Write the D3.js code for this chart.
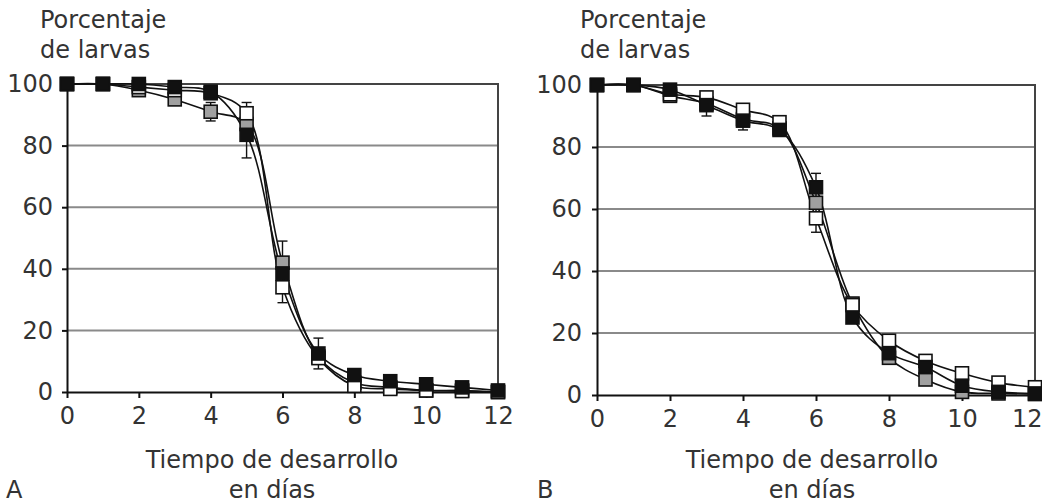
<!DOCTYPE html>
<html lang="es">
<head>
<meta charset="UTF-8">
<title>Porcentaje de larvas</title>
<script src="https://d3js.org/d3.v7.min.js"></script>
<style>
    body { margin: 0; background: #fff; }
    svg { display: block; font-family: "DejaVu Sans", Verdana, sans-serif; }
    .grid line { stroke: #8a8a8a; stroke-width: 2; }
    .axis path, .axis line { stroke: #111; stroke-width: 2; }
    .axis text { fill: #333; font-size: 24px; font-family: "DejaVu Sans", Verdana, sans-serif; }
    .label { fill: #333; font-size: 24px; }
    .curve { fill: none; stroke: #111; stroke-width: 1.6; }
    .err { stroke: #111; stroke-width: 1.4; }
</style>
</head>
<body>
<svg id="chart" width="1042" height="503"></svg>
<script>
// eje x: días de desarrollo
const days = [0, 1, 2, 3, 4, 5, 6, 7, 8, 9, 10, 11, 12];
const xTicks = [0, 2, 4, 6, 8, 10, 12];
const yTicks = [0, 20, 40, 60, 80, 100];

// panel A
const aBlack = [100, 100, 100, 99, 97.5, 83.5, 38.5, 12.5, 5.5, 3.5, 2.5, 1.5, 0.5];
const aWhite = [100, 100, 99, 98, 97, 90.5, 34, 11, 2, 1, 0.5, 0.3, 0];
const aGray  = [100, 100, 98, 95, 91, 87, 42, 11.5, 3, 1.5, 0.5, 0.5, 0];
const aBlackErr = [0, 0, 0, 1, 1.5, 7.5, 3, 5, 1, 1, 1, 1, 0];
const aWhiteErr = [0, 0, 0, 1, 1, 3.5, 5, 1, 1, 0.5, 0.5, 0, 0];
const aGrayErr  = [0, 0, 1, 1, 3, 2, 7, 1, 1, 0.5, 0.5, 0.5, 0];

// panel B
const bBlack = [100, 100, 98.5, 93.5, 88.5, 85.5, 67, 25, 13.5, 9, 3, 1, 0.5];
const bWhite = [100, 100, 97, 96, 92, 88, 57, 29, 17.5, 11, 7, 4, 2.5];
const bGray  = [100, 100, 96.5, 94, 89, 86, 62, 29.5, 12, 5, 1, 0.5, 0.3];
const bBlackErr = [0, 0, 1, 3.5, 3, 1.5, 4.5, 1, 1, 1, 1, 0.5, 0.5];
const bWhiteErr = [0, 0, 1, 1, 1.5, 1, 4.5, 2, 1, 1, 1, 1, 1];
const bGrayErr  = [0, 0, 1, 1, 1.5, 1, 2, 1, 1, 1, 1, 0.5, 0.5];

const svg = d3.select("#chart");

function drawPanel(opts) {
    const x = d3.scaleLinear().domain([0, 12]).range([opts.x0, opts.x1]);
    const y = d3.scaleLinear().domain([0, 100]).range([opts.y0, opts.y1]);
    const g = svg.append("g");

    // lineas de la cuadricula
    g.append("g").attr("class", "grid")
        .selectAll("line")
        .data(yTicks.filter(d => d > 0 && d < 100))
        .enter().append("line")
        .attr("x1", x(0)).attr("x2", x(12))
        .attr("y1", d => y(d)).attr("y2", d => y(d));

    // marco superior y derecho
    g.append("path")
        .attr("d", `M${x(0)},${y(100)}H${x(12)}V${y(0)}`)
        .attr("fill", "none").attr("stroke", "#444").attr("stroke-width", 2);

    g.append("g").attr("class", "axis")
        .attr("transform", `translate(${x(0)},0)`)
        .call(d3.axisLeft(y).tickValues(yTicks).tickSize(5).tickSizeOuter(0).tickPadding(opts.yPad));

    const xAxis = g.append("g").attr("class", "axis")
        .attr("transform", `translate(0,${y(0)})`)
        .call(d3.axisBottom(x).tickValues(xTicks).tickSize(6).tickSizeOuter(0).tickPadding(9));
    if (opts.clipLast) {
        // el "12" queda pegado al borde derecho
        xAxis.selectAll(".tick").filter(d => d === 12).select("text")
            .attr("text-anchor", "end").attr("x", 1042 - x(12));
    }

    const line = d3.line()
        .x((d, i) => x(days[i]))
        .y(d => y(d))
        .curve(d3.curveCatmullRom.alpha(0.5));

    opts.series.forEach(s => {
        g.append("path").datum(s.values).attr("class", "curve").attr("d", line);
    });

    // barras de error
    opts.series.forEach(s => {
        const eb = g.append("g");
        days.forEach((d, i) => {
            const e = s.err[i];
            if (!e) return;
            const cx = x(d), lo = y(s.values[i] - e), hi = y(Math.min(s.values[i] + e, 101));
            eb.append("line").attr("class", "err").attr("x1", cx).attr("x2", cx).attr("y1", lo).attr("y2", hi);
            eb.append("line").attr("class", "err").attr("x1", cx - 5).attr("x2", cx + 5).attr("y1", lo).attr("y2", lo);
            eb.append("line").attr("class", "err").attr("x1", cx - 5).attr("x2", cx + 5).attr("y1", hi).attr("y2", hi);
        });
    });

    const m = 13;
    opts.series.forEach(s => {
        g.append("g").selectAll("rect")
            .data(s.values)
            .enter().append("rect")
            .attr("x", (d, i) => x(days[i]) - m / 2)
            .attr("y", d => y(d) - m / 2)
            .attr("width", m).attr("height", m)
            .attr("fill", s.fill)
            .attr("stroke", "#111").attr("stroke-width", 1.6);
    });

    // textos
    svg.append("text").attr("class", "label").attr("x", opts.titleX).attr("y", 28).text("Porcentaje");
    svg.append("text").attr("class", "label").attr("x", opts.titleX).attr("y", 58).text("de larvas");
    const cx = opts.labelCx;
    svg.append("text").attr("class", "label").attr("x", cx).attr("y", 468).attr("text-anchor", "middle").text("Tiempo de desarrollo");
    svg.append("text").attr("class", "label").attr("x", cx).attr("y", 498).attr("text-anchor", "middle").text("en días");
    svg.append("text").attr("class", "label").attr("x", opts.letterX).attr("y", 498).text(opts.letter);
}

drawPanel({
    x0: 67, x1: 498, y0: 392, y1: 84, yPad: 9,
    titleX: 40, labelCx: 272, letterX: 6, letter: "A",
    series: [
        { values: aGray, err: aGrayErr, fill: "#a0a0a0" },
        { values: aWhite, err: aWhiteErr, fill: "#ffffff" },
        { values: aBlack, err: aBlackErr, fill: "#111111" }
    ]
});

drawPanel({
    x0: 597, x1: 1035, y0: 395, y1: 85, yPad: 10, clipLast: true,
    titleX: 580, labelCx: 812, letterX: 537, letter: "B",
    series: [
        { values: bGray, err: bGrayErr, fill: "#a0a0a0" },
        { values: bWhite, err: bWhiteErr, fill: "#ffffff" },
        { values: bBlack, err: bBlackErr, fill: "#111111" }
    ]
});
</script>
</body>
</html>
